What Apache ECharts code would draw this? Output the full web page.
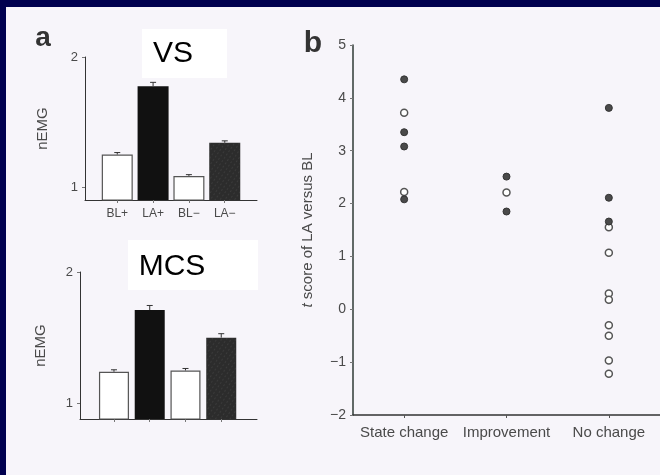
<!DOCTYPE html>
<html>
<head>
<meta charset="utf-8">
<script src="https://cdn.jsdelivr.net/npm/echarts@6/dist/echarts.min.js"></script>
<style>
html,body{margin:0;padding:0;background:#00004f;width:660px;height:475px;overflow:hidden;}
#c{position:absolute;left:6px;top:7px;width:654px;height:468px;background:#f7f5fa;}
</style>
</head>
<body>
<div id="c"></div>
<script>
// ---- Data ----
const barCategories = ['BL+', 'LA+', 'BL\u2212', 'LA\u2212'];
const barPositions = [1, 2, 3, 4];
const vsValues = [1.25, 1.775, 1.085, 1.34];
const vsErrors = [0.015, 0.03, 0.01, 0.015];
const mcsValues = [1.24, 1.71, 1.25, 1.50];
const mcsErrors = [0.015, 0.035, 0.015, 0.03];
const nemgTicks = [1, 2];

const outcomeCategories = ['State change', 'Improvement', 'No change'];
const filledScores = [
  [4.35, 3.35, 3.08, 2.08],
  [2.51, 1.85],
  [3.81, 2.11, 1.66]
];
const openScores = [
  [3.72, 2.22],
  [2.21],
  [1.55, 1.07, 0.3, 0.18, -0.3, -0.5, -0.97, -1.22]
];

// ---- Helpers ----
const axisColor = '#333';
const labelColor = '#4a4a4a';
const font = 'Liberation Sans, Arial, sans-serif';
const barColors = ['#ffffff', '#111111', '#ffffff', '#2c2c2c'];

function barData(values) {
  return values.map((v, i) => {
    const style = {
      color: barColors[i],
      borderColor: i % 2 === 0 ? '#555' : barColors[i],
      borderWidth: i % 2 === 0 ? 1.2 : 0
    };
    if (i === 3) {
      style.decal = { symbol: 'circle', symbolSize: 0.4, color: 'rgba(190,190,190,0.45)', dashArrayX: [3, 1], dashArrayY: [2, 2], rotation: 0.6 };
    }
    return { value: [barPositions[i], v], itemStyle: style };
  });
}
function errData(values, errs) {
  return values.map((v, i) => [barPositions[i], v, errs[i]]);
}
function errRender(params, api) {
  const x = api.value(0), v = api.value(1), e = api.value(2);
  const p0 = api.coord([x, v]);
  const p1 = api.coord([x, v + e]);
  return {
    type: 'group',
    children: [
      { type: 'line', shape: { x1: p0[0], y1: p0[1], x2: p1[0], y2: p1[1] }, style: { stroke: '#333', lineWidth: 1 } },
      { type: 'line', shape: { x1: p1[0] - 3, y1: p1[1], x2: p1[0] + 3, y2: p1[1] }, style: { stroke: '#333', lineWidth: 1 } }
    ]
  };
}
function scatterData(groups) {
  const out = [];
  groups.forEach((vals, ci) => vals.forEach(v => out.push([outcomeCategories[ci], v])));
  return out;
}

function nemgYAxis(gridIndex, min, gap) {
  return {
    type: 'value', gridIndex, min, max: 2,
    name: 'nEMG', nameLocation: 'middle', nameGap: gap,
    nameTextStyle: { color: labelColor, fontSize: 15, fontFamily: font },
    splitLine: { show: false },
    axisLine: { show: true, lineStyle: { color: axisColor, width: 1 } },
    axisTick: { show: true, length: 3, customValues: nemgTicks, lineStyle: { color: '#777' } },
    axisLabel: { customValues: nemgTicks, color: labelColor, fontSize: 13, fontFamily: font, margin: 7 }
  };
}
function barXAxis(gridIndex, min, max, showLabels) {
  return {
    type: 'value', gridIndex, min, max,
    splitLine: { show: false },
    axisLine: { show: true, lineStyle: { color: axisColor, width: 1 } },
    axisTick: { show: true, length: 3, customValues: barPositions, lineStyle: { color: '#777' } },
    axisLabel: {
      show: showLabels, customValues: barPositions,
      formatter: v => barCategories[barPositions.indexOf(v)] || '',
      color: labelColor, fontSize: 12, fontFamily: font, margin: 8
    }
  };
}

const chart = echarts.init(document.getElementById('c'), null, { renderer: 'canvas' });
chart.setOption({
  animation: false,
  grid: [
    { left: 79, top: 50, width: 172, height: 143 },
    { left: 74, top: 265, width: 177, height: 147 },
    { left: 347, top: 38, width: 312, height: 370 }
  ],
  xAxis: [
    barXAxis(0, 0.1, 4.9, true),
    barXAxis(1, 0.05, 5.0, false),
    {
      type: 'category', gridIndex: 2, data: outcomeCategories, boundaryGap: true,
      axisLine: { show: true, onZero: false, lineStyle: { color: '#333', width: 1.6 } },
      axisTick: { show: true, alignWithLabel: true, length: 3, lineStyle: { color: '#555' } },
      axisLabel: { interval: 0, hideOverlap: false, color: labelColor, fontSize: 15, fontFamily: font, margin: 10 }
    }
  ],
  yAxis: [
    nemgYAxis(0, 0.9, 35),
    nemgYAxis(1, 0.88, 32),
    {
      type: 'value', gridIndex: 2, min: -2, max: 5, interval: 1,
      name: '{i|t} score of LA versus BL', nameLocation: 'middle', nameGap: 38,
      nameTextStyle: { color: labelColor, fontSize: 15, fontFamily: font,
        rich: { i: { fontStyle: 'italic', color: labelColor, fontSize: 15, fontFamily: font } } },
      splitLine: { show: false },
      axisLine: { show: true, lineStyle: { color: '#2f3a36', width: 1.5 } },
      axisTick: { show: true, length: 3, lineStyle: { color: '#777' } },
      axisLabel: { color: labelColor, fontSize: 14, fontFamily: font, margin: 7,
        formatter: v => String(v).replace('-', '\u2212') }
    }
  ],
  series: [
    { type: 'bar', xAxisIndex: 0, yAxisIndex: 0, barWidth: 31, data: barData(vsValues) },
    { type: 'custom', xAxisIndex: 0, yAxisIndex: 0, renderItem: errRender, data: errData(vsValues, vsErrors), z: 5 },
    { type: 'bar', xAxisIndex: 1, yAxisIndex: 1, barWidth: 30, data: barData(mcsValues) },
    { type: 'custom', xAxisIndex: 1, yAxisIndex: 1, renderItem: errRender, data: errData(mcsValues, mcsErrors), z: 5 },
    { type: 'scatter', xAxisIndex: 2, yAxisIndex: 2, symbolSize: 7,
      itemStyle: { color: '#ffffff', borderColor: '#555', borderWidth: 1.5, opacity: 1 },
      data: scatterData(openScores) },
    { type: 'scatter', xAxisIndex: 2, yAxisIndex: 2, symbolSize: 7,
      itemStyle: { color: '#4a4a4a', borderColor: '#333', borderWidth: 1, opacity: 1 },
      data: scatterData(filledScores) }
  ],
  graphic: [
    { type: 'rect', shape: { x: 136, y: 22, width: 85, height: 49 }, style: { fill: '#ffffff' }, z: 10 },
    { type: 'text', x: 167, y: 47, style: { text: 'VS', font: '30px Liberation Sans, Arial, sans-serif', fill: '#000', align: 'center', verticalAlign: 'middle' }, z: 11 },
    { type: 'rect', shape: { x: 122, y: 233, width: 130, height: 50 }, style: { fill: '#ffffff' }, z: 10 },
    { type: 'text', x: 166, y: 260, style: { text: 'MCS', font: '30px Liberation Sans, Arial, sans-serif', fill: '#000', align: 'center', verticalAlign: 'middle' }, z: 11 },
    { type: 'text', x: 37, y: 31, style: { text: 'a', font: 'bold 28px Liberation Sans, Arial, sans-serif', fill: '#333', align: 'center', verticalAlign: 'middle' }, z: 11 },
    { type: 'text', x: 307, y: 37, style: { text: 'b', font: 'bold 30px Liberation Sans, Arial, sans-serif', fill: '#333', align: 'center', verticalAlign: 'middle' }, z: 11 }
  ]
});
</script>
</body>
</html>
